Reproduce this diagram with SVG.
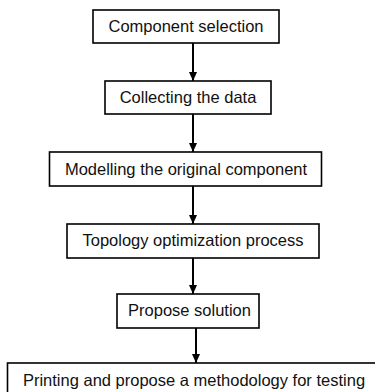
<svg xmlns="http://www.w3.org/2000/svg" width="375" height="392" viewBox="0 0 375 392">
<defs>
<marker id="ah" markerWidth="10" markerHeight="10" refX="9" refY="5" orient="auto" markerUnits="userSpaceOnUse" viewBox="0 0 10 10">
<path d="M0,1 L9,5 L0,9 Z" fill="#000"/>
</marker>
<style>
.box{fill:#fff;stroke:#000;stroke-width:1.6}
.lbl{font-family:"Liberation Sans",Arial,sans-serif;font-size:16.5px;fill:#111;text-anchor:middle}
.con{stroke:#000;stroke-width:2;fill:none;marker-end:url(#ah)}
</style>
</defs>
<rect width="375" height="392" fill="#fff"/>
<g id="connectors">
<line class="con" x1="193" y1="43" x2="193" y2="81"/>
<line class="con" x1="193" y1="114" x2="193" y2="152"/>
<line class="con" x1="193" y1="186" x2="193" y2="224"/>
<line class="con" x1="193" y1="258" x2="193" y2="294"/>
<line class="con" x1="196" y1="328" x2="196" y2="363"/>
</g>
<g id="n1"><rect class="box" x="93" y="10" width="186" height="33"/><text class="lbl" x="186" y="32">Component selection</text></g>
<g id="n2"><rect class="box" x="105" y="81" width="166" height="33"/><text class="lbl" x="188" y="103">Collecting the data</text></g>
<g id="n3"><rect class="box" x="49.5" y="152" width="272" height="34"/><text class="lbl" x="186" y="175">Modelling the original component</text></g>
<g id="n4"><rect class="box" x="67" y="224" width="252" height="34"/><text class="lbl" x="193" y="246">Topology optimization process</text></g>
<g id="n5"><rect class="box" x="117" y="294" width="142" height="34"/><text class="lbl" x="189.5" y="316">Propose solution</text></g>
<g id="n6"><rect class="box" x="7.5" y="363" width="380" height="40"/><text class="lbl" x="194" y="386">Printing and propose a methodology for testing</text></g>
</svg>
